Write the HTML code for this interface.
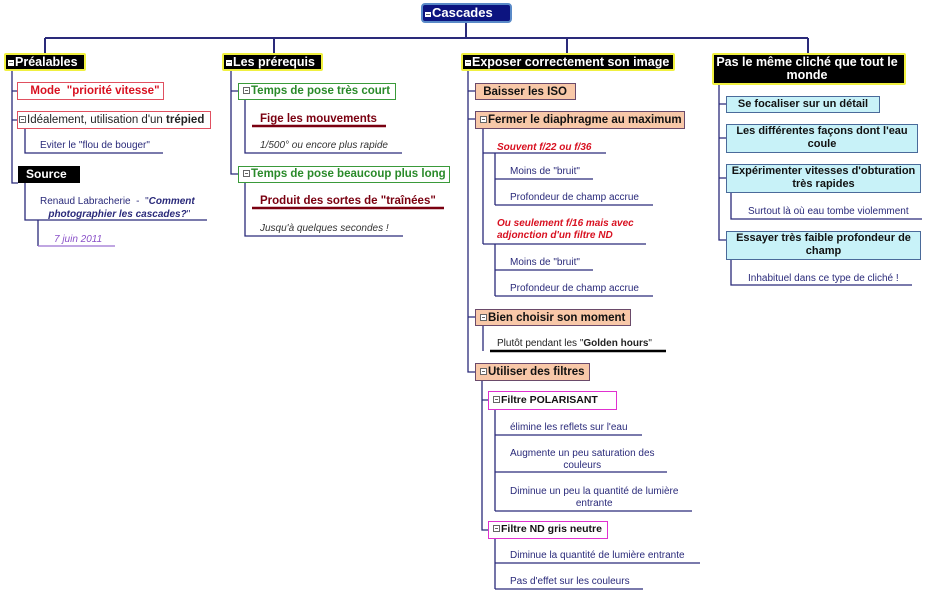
<!DOCTYPE html>
<html><head><meta charset="utf-8"><style>
body{margin:0;width:933px;height:593px;background:#fff;position:relative;overflow:hidden;font-family:"Liberation Sans",sans-serif}
.b{position:absolute;box-sizing:border-box;font-weight:bold;white-space:nowrap;line-height:16px}
.t{position:absolute;font-size:10px;color:#2a2a7a;white-space:nowrap;line-height:12px}
.main{background:#000;color:#fff;border:2px solid #f0f040;font-size:12.5px;padding:0 6px 0 2px;border-radius:2px;line-height:15px}
.red{border:1px solid #e05060;color:#d81020;font-size:11.5px;padding:0 6px}
.grn{border:1.5px solid #3a9a3a;color:#2a8a2a;font-size:11.5px;padding:0 4px;line-height:15px}
.pch{background:#f8c8a8;border:1px solid #6a4a6a;color:#111;font-size:11.5px;padding:0 4px}
.cy{background:#c8f2f8;border:1.5px solid #4a6a9a;color:#111;font-size:11px;padding:0 4px;text-align:center;line-height:13px}
.mg{border:1.5px solid #e030d0;color:#111;font-size:10.5px;padding:0 4px}
.m{display:inline-block;width:7px;height:7px;border:1px solid #666;background:#fff;box-sizing:border-box;margin-right:1px;vertical-align:0;position:relative}
.m::after{content:"";position:absolute;left:1px;right:1px;top:2px;height:1px;background:#666}
</style></head><body>
<svg width="933" height="593" style="position:absolute;left:0;top:0" fill="none" stroke="#2a2a7a" stroke-width="1.3">
<path d="M466 22V38M45 38H808M45 38V53M274 38V53M567 38V53M808 38V53" stroke-width="2"/>
<path d="M12 70V183H18M12 91H17M12 120H17"/>
<path d="M25 128V153H163M25 183V220H207M38 220V246"/>
<path d="M38 246H115" stroke="#9a70d0"/>
<path d="M231 70V174H238M231 91H238M245 99V153H402M245 182V236H403"/>
<path d="M252 126H386M252 208H444" stroke="#7a0010" stroke-width="2.5"/>
<path d="M468 70V372H475M468 91H475M468 119H475M468 317H475"/>
<path d="M483 128V244M483 153H606M483 244H646M495 153V205M495 179H593M495 205H653M495 244V296M495 270H593M495 296H653"/>
<path d="M483 325V351"/>
<path d="M490 351H666" stroke="#000" stroke-width="2.5"/>
<path d="M482 380V530H488M482 400H488M495 409V511M495 435H642M495 472H667M495 511H692M495 538V589M495 563H700M495 589H643"/>
<path d="M719 84V240H726M719 104H726M719 138H726M719 178H726M731 192V219H922M731 259V285H912"/>
</svg>
<div class="b" style="left:421px;top:3px;width:91px;height:20px;background:#0c1480;border:2px solid #5a8ac8;border-radius:4px;color:#fff;font-size:13px;line-height:16px;padding-left:2px"><span class="m" style="border:none;width:6px;height:5px"></span>Cascades</div>

<div class="b main" style="left:4px;top:53px;width:82px;height:18px"><span class="m" style="border:none;width:6px;height:6px"></span>Préalables</div>
<div class="b main" style="left:222px;top:53px;width:101px;height:18px"><span class="m" style="border:none;width:6px;height:6px"></span>Les prérequis</div>
<div class="b main" style="left:461px;top:53px;width:214px;height:18px"><span class="m" style="border:none;width:6px;height:6px"></span>Exposer correctement son image</div>
<div class="b main" style="left:712px;top:53px;width:194px;height:32px;text-align:center;line-height:13px;padding-top:1px">Pas le même cliché que tout le<br>monde</div>

<div class="b red" style="left:17px;top:82px;width:147px;height:18px">&nbsp;&nbsp;Mode &nbsp;"priorité vitesse"</div>
<div class="b red" style="left:17px;top:111px;width:194px;height:18px;color:#222;font-weight:normal;padding:0 0 0 1px"><span class="m"></span>Idéalement, utilisation d'un <b>trépied</b></div>
<div class="t" style="left:40px;top:140px">Eviter le "flou de bouger"</div>
<div class="b" style="left:18px;top:166px;width:62px;height:17px;background:#000;color:#fff;font-size:12px;padding-left:8px">Source</div>
<div class="t" style="left:40px;top:195px;line-height:13px">Renaud Labracherie &nbsp;- &nbsp;"<b><i>Comment</i></b><br>&nbsp;&nbsp;&nbsp;<b><i>photographier les cascades?</i></b>"</div>
<div class="t" style="left:54px;top:234px;color:#8a50c8;font-style:italic">7 juin 2011</div>

<div class="b grn" style="left:238px;top:83px;width:158px;height:17px"><span class="m"></span>Temps de pose très court</div>
<div class="b" style="left:260px;top:111px;color:#7a0010;font-size:11.5px">Fige les mouvements</div>
<div class="t" style="left:260px;top:140px;font-style:italic;color:#333">1/500° ou encore plus rapide</div>
<div class="b grn" style="left:238px;top:166px;width:212px;height:17px"><span class="m"></span>Temps de pose beaucoup plus long</div>
<div class="b" style="left:260px;top:193px;color:#7a0010;font-size:11.5px">Produit des sortes de "traînées"</div>
<div class="t" style="left:260px;top:223px;font-style:italic;color:#333">Jusqu'à quelques secondes !</div>

<div class="b pch" style="left:475px;top:83px;width:101px;height:17px">&nbsp;Baisser les ISO</div>
<div class="b pch" style="left:475px;top:111px;width:210px;height:18px"><span class="m"></span>Fermer le diaphragme au maximum</div>
<div class="b" style="left:497px;top:140px;color:#d81020;font-size:10px;font-style:italic">Souvent f/22 ou f/36</div>
<div class="t" style="left:510px;top:166px">Moins de "bruit"</div>
<div class="t" style="left:510px;top:192px">Profondeur de champ accrue</div>
<div class="b" style="left:497px;top:218px;color:#d81020;font-size:10px;font-style:italic;line-height:12px">Ou seulement f/16 mais avec<br>adjonction d'un filtre ND</div>
<div class="t" style="left:510px;top:257px">Moins de "bruit"</div>
<div class="t" style="left:510px;top:283px">Profondeur de champ accrue</div>
<div class="b pch" style="left:475px;top:309px;width:156px;height:17px"><span class="m"></span>Bien choisir son moment</div>
<div class="t" style="left:497px;top:338px;color:#222">Plutôt pendant les "<b>Golden hours</b>"</div>
<div class="b pch" style="left:475px;top:363px;width:115px;height:18px"><span class="m"></span>Utiliser des filtres</div>
<div class="b mg" style="left:488px;top:391px;width:129px;height:19px;line-height:16px"><span class="m"></span>Filtre POLARISANT</div>
<div class="t" style="left:510px;top:422px">élimine les reflets sur l'eau</div>
<div class="t" style="left:510px;top:448px;text-align:center">Augmente un peu saturation des<br>couleurs</div>
<div class="t" style="left:510px;top:486px;text-align:center">Diminue un peu la quantité de lumière<br>entrante</div>
<div class="b mg" style="left:488px;top:521px;width:120px;height:18px;line-height:15px"><span class="m"></span>Filtre ND gris neutre</div>
<div class="t" style="left:510px;top:550px">Diminue la quantité de lumière entrante</div>
<div class="t" style="left:510px;top:576px">Pas d'effet sur les couleurs</div>

<div class="b cy" style="left:726px;top:96px;width:154px;height:17px;line-height:14px">Se focaliser sur un détail</div>
<div class="b cy" style="left:726px;top:124px;width:192px;height:29px">Les différentes façons dont l'eau<br>coule</div>
<div class="b cy" style="left:726px;top:164px;width:195px;height:29px">Expérimenter vitesses d'obturation<br>très rapides</div>
<div class="t" style="left:748px;top:206px">Surtout là où eau tombe violemment</div>
<div class="b cy" style="left:726px;top:231px;width:195px;height:29px">Essayer très faible profondeur de<br>champ</div>
<div class="t" style="left:748px;top:273px">Inhabituel dans ce type de cliché !</div>
</body></html>
